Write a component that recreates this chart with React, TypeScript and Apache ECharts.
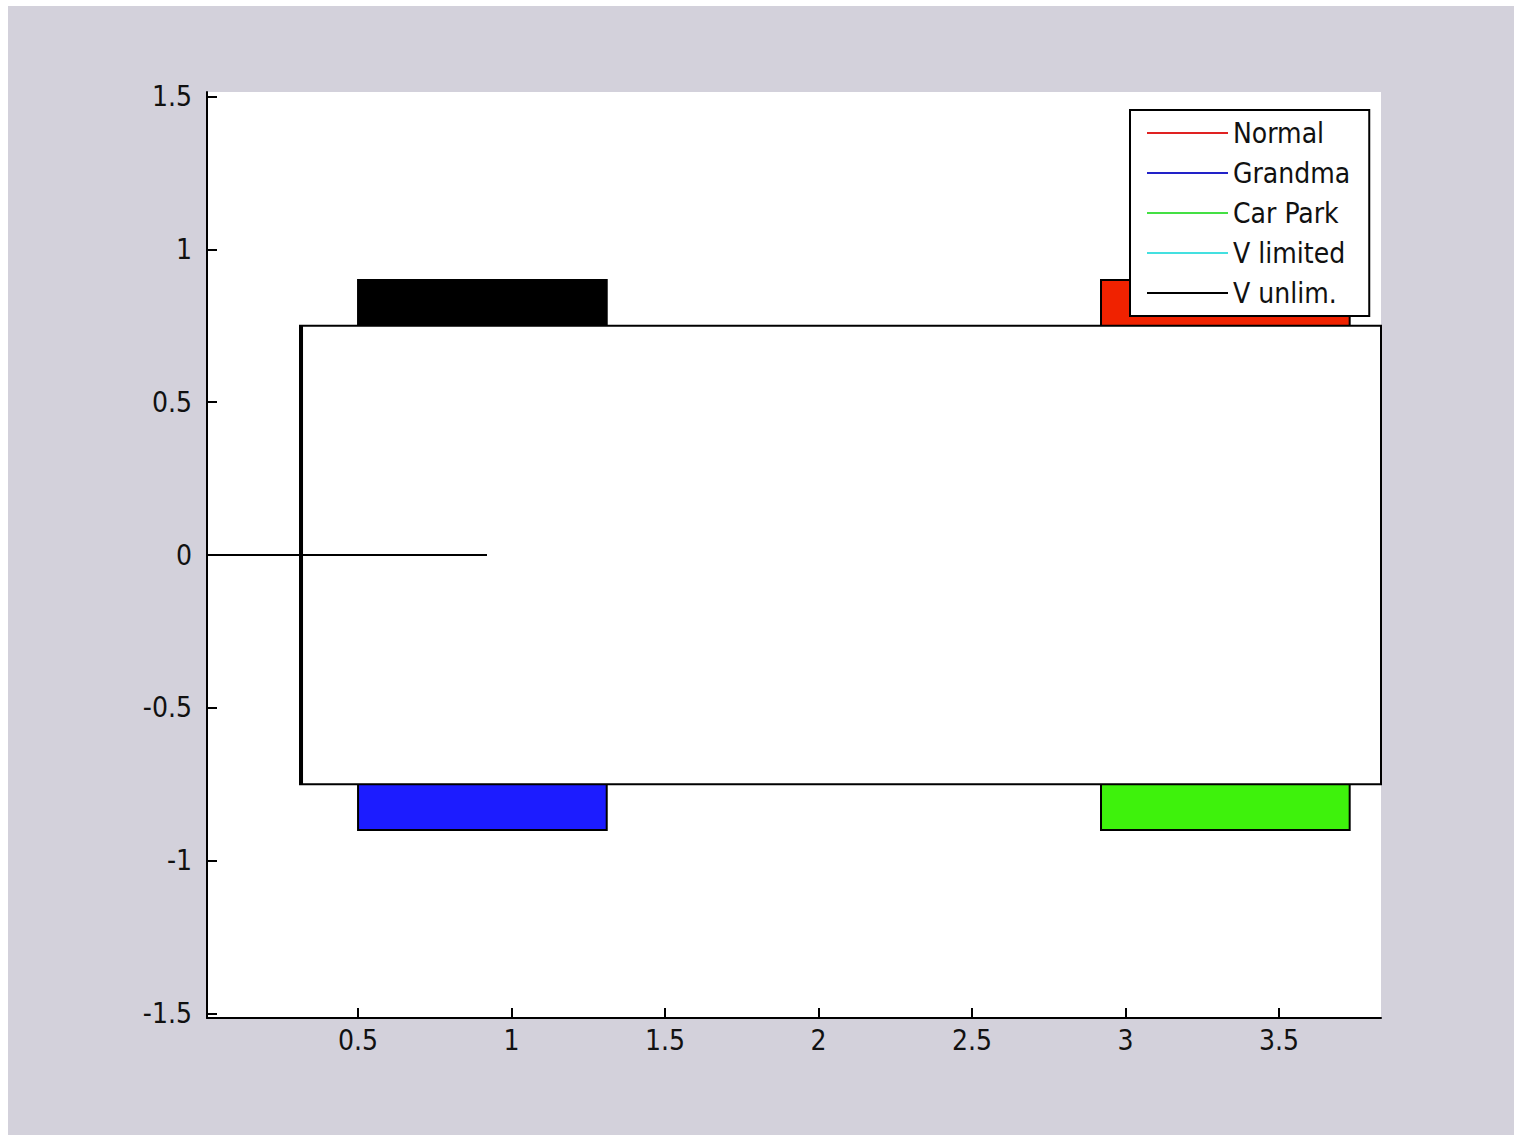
import React, { useEffect, useRef } from "react";
import * as echarts from "echarts";

const xTicks = [0.5, 1, 1.5, 2, 2.5, 3, 3.5];
const yTicks = [-1.5, -1, -0.5, 0, 0.5, 1, 1.5];

const legendNames = ["Normal", "Grandma", "Car Park", "V limited", "V unlim."];
const legendColors = ["#e02222", "#2222c8", "#44e044", "#44e0e0", "#000000"];

// bars: [x0, x1, yBase, yTop]
const normalBar = [2.92, 3.73, 0, 0.9];
const grandmaBar = [0.5, 1.31, 0, -0.9];
const carParkBar = [2.92, 3.73, 0, -0.9];
const vUnlimBar = [0.5, 1.31, 0, 0.9];
const barColors = ["#f02200", "#1c1cff", "#3ef20c", "#000000"];

// white frame box: [x0, x1, y0, y1]
const frameBox = [0.311, 3.832, -0.75, 0.75];
// zero line points
const zeroLineX = [0.008, 0.92];
const zeroLineY = [0, 0];

const FONT = "'Liberation Sans Narrow', 'DejaVu Sans Condensed', 'Liberation Sans', sans-serif";

function rectItem(fill: string, stroke: string, lw: number) {
  return (params: any, api: any) => {
    const a = api.coord([api.value(0), api.value(3)]);
    const b = api.coord([api.value(1), api.value(2)]);
    const x = Math.min(a[0], b[0]);
    const y = Math.min(a[1], b[1]);
    return {
      type: "rect",
      shape: { x, y, width: Math.abs(b[0] - a[0]), height: Math.abs(b[1] - a[1]) },
      style: { fill, stroke, lineWidth: lw },
    };
  };
}

export default function App() {
  const ref = useRef<HTMLDivElement>(null);
  useEffect(() => {
    if (!ref.current) return;
    const chart = echarts.init(ref.current, null, { renderer: "svg" });
    const option: any = {
      animation: false,
      backgroundColor: "#d3d1db",
      textStyle: { fontFamily: FONT },
      grid: { left: 199, top: 86, right: 133, bottom: 117, show: true, backgroundColor: "#ffffff", borderWidth: 0 },
      xAxis: {
        type: "value",
        min: 0.008,
        max: 3.832,
        axisLine: { show: true, onZero: false, lineStyle: { color: "#000", width: 2 } },
        axisTick: { show: true, inside: true, length: 10, customValues: xTicks, lineStyle: { color: "#000", width: 2 } },
        axisLabel: { customValues: xTicks, formatter: (v: number) => String(v), color: "#111", fontSize: 28, fontFamily: FONT, margin: 8 },
        splitLine: { show: false },
      },
      yAxis: {
        type: "value",
        min: -1.515,
        max: 1.515,
        axisLine: { show: true, onZero: false, lineStyle: { color: "#000", width: 2 } },
        axisTick: { show: true, inside: true, length: 10, customValues: yTicks, lineStyle: { color: "#000", width: 2 } },
        axisLabel: { customValues: yTicks, formatter: (v: number) => String(v), color: "#111", fontSize: 28, fontFamily: FONT, margin: 15 },
        splitLine: { show: false },
      },
      legend: {
        orient: "vertical",
        left: 1122,
        top: 104,
        padding: [8, 19, 8, 17],
        itemGap: 10,
        itemWidth: 81,
        itemHeight: 2,
        backgroundColor: "#ffffff",
        borderColor: "#000",
        borderWidth: 2,
        borderRadius: 0,
        textStyle: { color: "#111", fontSize: 28, lineHeight: 30, fontFamily: FONT },
        data: legendNames.map((n, i) => ({ name: n, icon: "rect", itemStyle: { color: legendColors[i], borderWidth: 0 } })),
      },
      series: [
        { name: "Normal", type: "custom", z: 2, color: legendColors[0], renderItem: rectItem(barColors[0], "#000", 2), encode: { x: [0, 1], y: [2, 3] }, data: [normalBar] },
        { name: "Grandma", type: "custom", z: 2, color: legendColors[1], renderItem: rectItem(barColors[1], "#000", 2), encode: { x: [0, 1], y: [2, 3] }, data: [grandmaBar] },
        { name: "Car Park", type: "custom", z: 2, color: legendColors[2], renderItem: rectItem(barColors[2], "#000", 2), encode: { x: [0, 1], y: [2, 3] }, data: [carParkBar] },
        { name: "V limited", type: "line", color: legendColors[3], data: [] },
        { name: "V unlim.", type: "custom", z: 2, color: legendColors[4], renderItem: rectItem(barColors[3], "#000", 2), encode: { x: [0, 1], y: [2, 3] }, data: [vUnlimBar] },
        {
          name: "frame",
          type: "custom",
          z: 3,
          encode: { x: [0, 1], y: [2, 3] },
          data: [frameBox],
          renderItem: (params: any, api: any) => {
            const a = api.coord([api.value(0), api.value(3)]);
            const b = api.coord([api.value(1), api.value(2)]);
            return {
              type: "group",
              children: [
                { type: "rect", shape: { x: a[0], y: a[1], width: b[0] - a[0], height: b[1] - a[1] }, style: { fill: "#fff", stroke: "#000", lineWidth: 2 } },
                { type: "line", shape: { x1: a[0] + 1, y1: a[1], x2: a[0] + 1, y2: b[1] }, style: { stroke: "#000", lineWidth: 4 } },
              ],
            };
          },
        },
        {
          name: "zero",
          type: "line",
          z: 4,
          symbol: "none",
          lineStyle: { color: "#000", width: 2 },
          data: zeroLineX.map((x, i) => [x, zeroLineY[i]]),
        },
      ],
    };
    chart.setOption(option);
    return () => chart.dispose();
  }, []);
  return <div ref={ref} style={{ position: "absolute", left: 8, top: 6, width: 1506, height: 1129 }} />;
}
